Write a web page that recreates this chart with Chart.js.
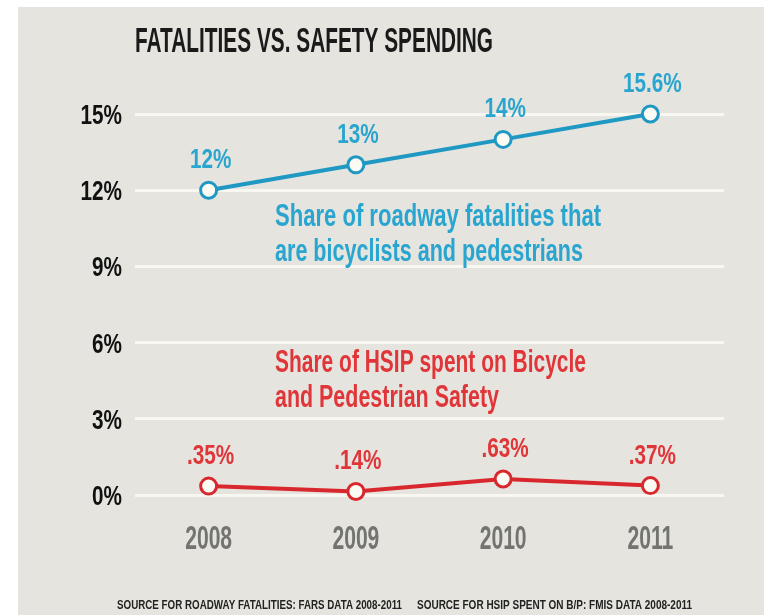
<!DOCTYPE html>
<html>
<head>
<meta charset="utf-8">
<script src="https://cdn.jsdelivr.net/npm/chart.js@4.4.1/dist/chart.umd.min.js"></script>
<style>
  html, body { margin: 0; padding: 0; background: #ffffff; }
  #grafico { display: block; }
</style>
</head>
<body>
<canvas id="grafico" width="764" height="615"></canvas>
<script>
// datos del grafico
const years = ['2008', '2009', '2010', '2011'];
const fatalitiesShare = [12, 13, 14, 15];          // posicion dibujada en la imagen
const fatalitiesLabels = ['12%', '13%', '14%', '15.6%'];
const hsipShare = [0.35, 0.14, 0.63, 0.37];
const hsipLabels = ['.35%', '.14%', '.63%', '.37%'];
const yTicks = [0, 3, 6, 9, 12, 15];

const FONT = "'Liberation Sans', 'DejaVu Sans', sans-serif";
const AZUL = '#1f98c3';
const AZUL_TXT = '#2aa5cf';
const ROJO = '#d9282d';
const ROJO_TXT = '#e03539';

// texto "angosto": escala horizontal para imitar la fuente condensada
// sx = factor de escala, o bien ancho = ancho final deseado
function textoAngosto(ctx, txt, x, y, size, color, opt) {
    ctx.save();
    ctx.font = 'bold ' + size + 'px ' + FONT;
    ctx.fillStyle = color;
    ctx.textBaseline = 'alphabetic';
    ctx.textAlign = 'left';
    const w = ctx.measureText(txt).width;
    const sx = opt.ancho ? opt.ancho / w : opt.sx;
    let x0 = x;
    if (opt.align === 'center') x0 = x - (w * sx) / 2;
    if (opt.align === 'right') x0 = x - w * sx;
    ctx.translate(x0, y);
    ctx.scale(sx, 1);
    ctx.fillText(txt, 0, 0);
    ctx.restore();
}

// fondo, titulo, ejes, notas y fuente
const decoracion = {
    id: 'decoracion',
    beforeDraw(chart) {
        const ctx = chart.ctx;
        ctx.save();
        ctx.fillStyle = '#e5e4de';
        ctx.fillRect(18, 7, chart.width - 18, chart.height - 7);
        ctx.restore();
    },
    afterDraw(chart) {
        const ctx = chart.ctx;
        const x = chart.scales.x;
        const y = chart.scales.y;
        const left = x.left;

        textoAngosto(ctx, 'FATALITIES VS. SAFETY SPENDING', left, 52, 35, '#1a1a1a', { ancho: 358 });

        // etiquetas de los ejes
        y.ticks.forEach(t => {
            textoAngosto(ctx, t.value + '%', left - 13, y.getPixelForValue(t.value) + 10, 28, '#111111', { sx: 0.74, align: 'right' });
        });
        x.ticks.forEach((t, i) => {
            textoAngosto(ctx, x.getLabelForValue(t.value), x.getPixelForTick(i), 549, 33, '#737370', { sx: 0.64, align: 'center' });
        });

        const ax = left + 140;
        textoAngosto(ctx, 'Share of roadway fatalities that', ax, y.getPixelForValue(10.6), 31, AZUL_TXT, { ancho: 326 });
        textoAngosto(ctx, 'are bicyclists and pedestrians', ax, y.getPixelForValue(9.23), 31, AZUL_TXT, { ancho: 308 });
        textoAngosto(ctx, 'Share of HSIP spent on Bicycle', ax, y.getPixelForValue(4.85), 31, ROJO_TXT, { ancho: 311 });
        textoAngosto(ctx, 'and Pedestrian Safety', ax, y.getPixelForValue(3.46), 31, ROJO_TXT, { ancho: 224 });

        textoAngosto(ctx, 'SOURCE FOR ROADWAY FATALITIES: FARS DATA 2008-2011', 117, 609, 12, '#222222', { ancho: 285 });
        textoAngosto(ctx, 'SOURCE FOR HSIP SPENT ON B/P: FMIS DATA 2008-2011', 417, 609, 12, '#222222', { ancho: 275 });

        // etiquetas de valores sobre cada punto
        const series = [
            { labels: fatalitiesLabels, color: AZUL_TXT },
            { labels: hsipLabels, color: ROJO_TXT }
        ];
        series.forEach((s, i) => {
            chart.getDatasetMeta(i).data.forEach((pt, j) => {
                textoAngosto(ctx, s.labels[j], pt.x + 2, pt.y - 22, 28, s.color, { sx: 0.74, align: 'center' });
            });
        });
    }
};

new Chart(document.getElementById('grafico').getContext('2d'), {
    type: 'line',
    data: {
        labels: years,
        datasets: [{
            label: 'Share of roadway fatalities',
            data: fatalitiesShare,
            borderColor: AZUL,
            borderWidth: 4,
            pointRadius: 8,
            pointBorderWidth: 3,
            pointBackgroundColor: '#fbfbf4',
            pointBorderColor: AZUL,
            clip: false
        }, {
            label: 'Share of HSIP',
            data: hsipShare,
            borderColor: ROJO,
            borderWidth: 4,
            pointRadius: 8,
            pointBorderWidth: 3,
            pointBackgroundColor: '#fbfbf4',
            pointBorderColor: ROJO,
            clip: false
        }]
    },
    options: {
        responsive: false,
        animation: false,
        devicePixelRatio: 1,
        layout: { padding: { top: 114, left: 18, right: 40, bottom: 0 } },
        plugins: {
            legend: { display: false },
            tooltip: { enabled: false },
            title: { display: false }
        },
        scales: {
            x: {
                offset: true,
                grid: { display: false, drawTicks: false },
                border: { display: false },
                ticks: { display: false },
                afterFit(scale) { scale.height = 120; }
            },
            y: {
                min: 0,
                max: 15,
                afterBuildTicks(scale) { scale.ticks = yTicks.map(v => ({ value: v })); },
                grid: { color: '#f8f7f2', lineWidth: 3, drawTicks: false },
                border: { display: false },
                ticks: { display: false },
                afterFit(scale) { scale.width = 117; }
            }
        }
    },
    plugins: [decoracion]
});
</script>
</body>
</html>
